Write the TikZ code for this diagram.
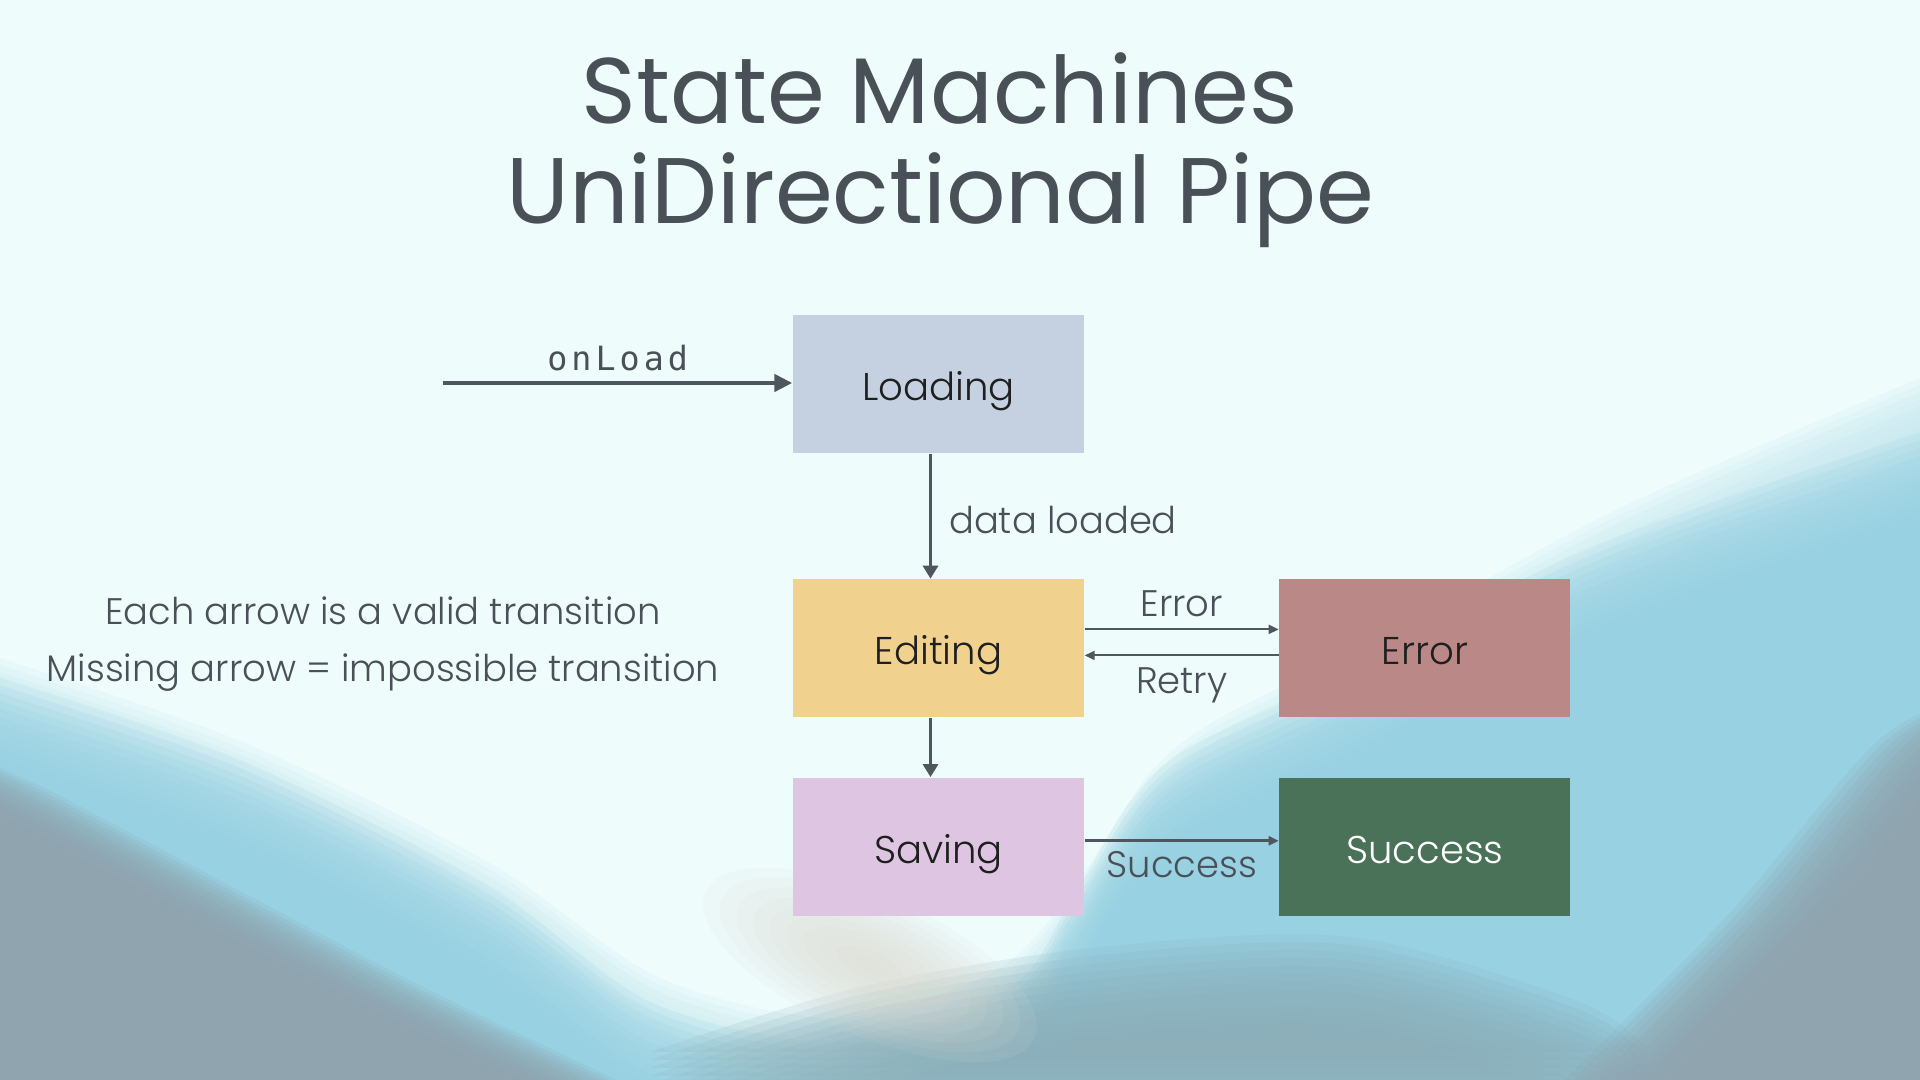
\documentclass[tikz,border=0pt]{standalone}
\usepackage{fontspec}
\setmainfont{Poppins}
\newfontfamily\lightfont{Poppins Light}
\newfontfamily\codefont{DejaVu Sans Mono}[LetterSpace=12.0]
\usetikzlibrary{arrows.meta,positioning}
\definecolor{slate}{HTML}{4A5057}
\definecolor{arrow_gray}{HTML}{50565D}
\definecolor{sky_bg}{HTML}{EEFCFC}
\definecolor{pale_blue}{HTML}{C4E8F0}
\definecolor{wave_blue}{HTML}{96D1E2}
\definecolor{deep_blue}{HTML}{8CAFB9}
\definecolor{wave_gray}{HTML}{8FA2AD}
\definecolor{sand}{HTML}{DEDAD0}
\definecolor{loading_fill}{HTML}{C5D1E1}
\definecolor{editing_fill}{HTML}{F0D28E}
\definecolor{error_fill}{HTML}{BA8987}
\definecolor{saving_fill}{HTML}{DEC6E2}
\definecolor{success_fill}{HTML}{4A7259}

\tikzset{
  state/.style={minimum width=2.91cm, minimum height=1.38cm, inner sep=0pt,
                text height=0.33cm, text depth=0pt,
                font=\lightfont\fontsize{11}{13}\selectfont, text=black!88},
  trans/.style={arrow_gray, line width=0.6pt, -{Triangle[length=0.1cm,width=0.09cm]}},
  translabel/.style={text=slate, inner sep=0pt, font=\lightfont\fontsize{10.5}{12}\selectfont},
  soft/.style={opacity=0.17},
}

% background waves
\newcommand{\palewave}{plot[smooth] coordinates {(-1,4.1) (0,3.8) (2.45,2.95) (4.9,1.75) (6.6,0.6)
   (8.4,0.2) (10.0,0.7) (10.8,1.6) (11.5,2.65) (12.2,3.2) (13.9,4.05) (16.2,5.3) (19.2,6.6) (20,6.9)}}
\newcommand{\bluewave}{plot[smooth] coordinates {(-1,3.85) (0,3.55) (2.45,2.7) (4.9,1.45) (6.5,0.3)
   (8.4,-0.1) (10.1,0.45) (10.7,1.3) (11.3,2.3) (11.9,2.85) (13.6,3.65) (15.92,4.85) (19.2,6.0) (20,6.3)}}
\newcommand{\floorwave}{plot[smooth] coordinates {(6.5,-0.2) (8.6,0.45) (11,0.85) (13.5,0.95)
   (15.8,0.3) (16.5,-0.2)}}
\newcommand{\leftwave}{plot[smooth] coordinates {(-1,3.3) (0,2.9) (3.67,0.97) (6.12,-0.2)}}
\newcommand{\rightwave}{plot[smooth] coordinates {(20,3.8) (19.2,3.34) (17.75,1.64) (15.92,-0.2)}}

\begin{document}
\begin{tikzpicture}
    \useasboundingbox (0,0) rectangle (19.2,10.8);
    \begin{scope}
      \clip (0,0) rectangle (19.2,10.8);
      \fill[sky_bg] (0,0) rectangle (19.2,10.8);
      \foreach \s in {0,...,12}
        \fill[pale_blue, soft, yshift=(\s-6)*0.07cm] \palewave -- (20,-2) -- (-1,-2) -- cycle;
      \foreach \s in {0,...,12}
        \fill[wave_blue, soft, yshift=(\s-6)*0.08cm] \bluewave -- (20,-2) -- (-1,-2) -- cycle;
      \foreach \s in {0,...,12}
        \fill[deep_blue, soft, yshift=(\s-6)*0.08cm] \floorwave -- cycle;
      \foreach \r in {1,...,10}
        \fill[sand, opacity=0.1, rotate around={-24:(8.7,1.15)}] (8.7,1.15) ellipse ({0.18*\r} and {0.07*\r});
      \foreach \s in {0,...,12}
        \fill[wave_gray, soft, xshift=(6-\s)*0.08cm] \leftwave -- (-1,-0.2) -- cycle;
      \foreach \s in {0,...,12}
        \fill[wave_gray, soft, xshift=(\s-6)*0.08cm] \rightwave -- (20,-0.2) -- cycle;
    \end{scope}

    \node[text=slate, align=center, font=\fontsize{26.5}{28.45}\selectfont] (title) at (9.4,9.3)
         {State Machines\\UniDirectional Pipe};

    \node[state, fill=loading_fill] (loading) at (9.385,6.96) {Loading};
    \node[state, fill=editing_fill, below=1.25cm of loading] (editing) {Editing};
    \node[state, fill=saving_fill, below=0.59cm of editing] (saving) {Saving};
    \node[state, fill=error_fill, right=1.94cm of editing] (error) {Error};
    \node[state, fill=success_fill, text=white, right=1.94cm of saving] (success) {Success};

    \coordinate (entry) at (4.43,6.97);
    \draw[arrow_gray, line width=1.3pt, -{Triangle[length=0.18cm,width=0.17cm]}]
         (entry) -- (entry -| loading.west)
         node[midway, anchor=base, yshift=0.12cm, text=slate, inner sep=0pt,
              font=\codefont\fontsize{9.5}{11}\selectfont] {onLoad};

    \draw[trans, line width=0.9pt, -{Triangle[length=0.13cm,width=0.15cm]}]
         ([xshift=-0.08cm]loading.south) -- ([xshift=-0.08cm]editing.north)
         node[midway, translabel, anchor=base west, xshift=0.17cm, yshift=-0.175cm] {data loaded};
    \draw[trans] ([yshift=0.19cm]editing.east) -- ([yshift=0.19cm]error.west)
         node[midway, translabel, anchor=base, yshift=0.13cm] {Error};
    \draw[trans] ([yshift=-0.07cm]error.west) -- ([yshift=-0.07cm]editing.east)
         node[midway, translabel, anchor=base, yshift=-0.38cm] {Retry};
    \draw[trans, line width=0.9pt, -{Triangle[length=0.13cm,width=0.15cm]}]
         ([xshift=-0.08cm]editing.south) -- ([xshift=-0.08cm]saving.north);
    \draw[trans, line width=0.8pt] ([yshift=0.06cm]saving.east) -- ([yshift=0.06cm]success.west)
         node[midway, translabel, anchor=base, yshift=-0.37cm] {Success};

    \node[text=slate, align=center, font=\lightfont\fontsize{10.5}{16.2}\selectfont] (rules) at (3.83,4.36)
         {Each arrow is a valid transition\\Missing arrow = impossible transition};
\end{tikzpicture}
\end{document}
